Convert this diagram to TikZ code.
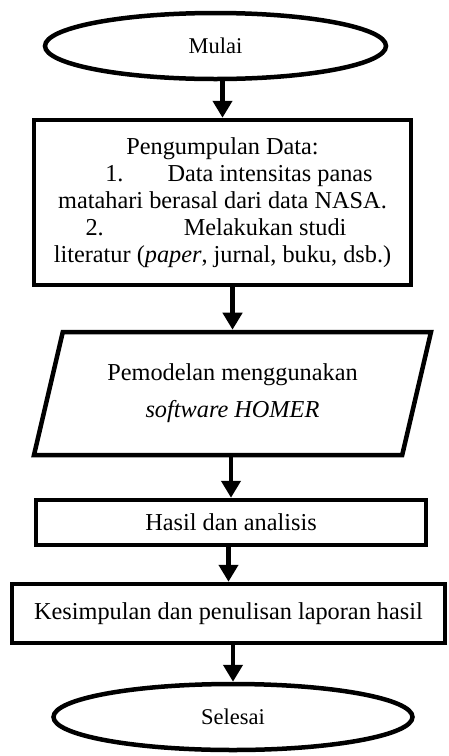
\documentclass[tikz,border=0pt]{standalone}
\usepackage{fontspec}
\setmainfont{Liberation Serif}
\usetikzlibrary{shapes.geometric,arrows.meta}

\begin{document}
\begin{tikzpicture}[x=1pt,y=-1pt,
	every node/.style={draw, line width=4.5pt, inner sep=0pt, align=center, font=\fontsize{24.3}{27}\selectfont},
	term/.style={ellipse, font=\fontsize{22.5}{26}\selectfont},
	proc/.style={rectangle},
	io/.style={trapezium, trapezium left angle=64, trapezium right angle=116, trapezium stretches body},
	arr/.style={line width=4.5pt, -{Triangle[length=17pt,width=19pt]}}]
	\useasboundingbox (0,0) rectangle (448,756);
	\node[term, minimum width=341pt, minimum height=66pt] (mulai) at (215.5,46) {Mulai};
	\node[proc, minimum width=377pt, minimum height=165pt] (data) at (222.5,202.5) {Pengumpulan Data:\\
		\hspace*{33pt}1.\hspace{44pt}Data intensitas panas\\
		matahari berasal dari data NASA.\\
		\hspace*{-13pt}2.\hspace{80pt}Melakukan studi\\
		literatur (\textit{paper}, jurnal, buku, dsb.)};
	\node[io, minimum width=397pt, minimum height=123pt] (model) at (232.5,393.5) {Pemodelan menggunakan\\[10pt]\textit{software HOMER}};
	\node[proc, minimum width=390pt, minimum height=45pt] (hasil) at (231,522.5) {Hasil dan analisis};
	\node[proc, minimum width=433pt, minimum height=59pt] (simpul) at (228.5,613.5) {Kesimpulan dan penulisan laporan hasil};
	\node[term, minimum width=359pt, minimum height=66pt] (selesai) at (233,717) {Selesai};
	\foreach \a/\b in {mulai/data, data/model, model/hasil, hasil/simpul, simpul/selesai}
		\draw[arr] (\b.north |- \a.south) -- (\b.north);
\end{tikzpicture}
\end{document}
